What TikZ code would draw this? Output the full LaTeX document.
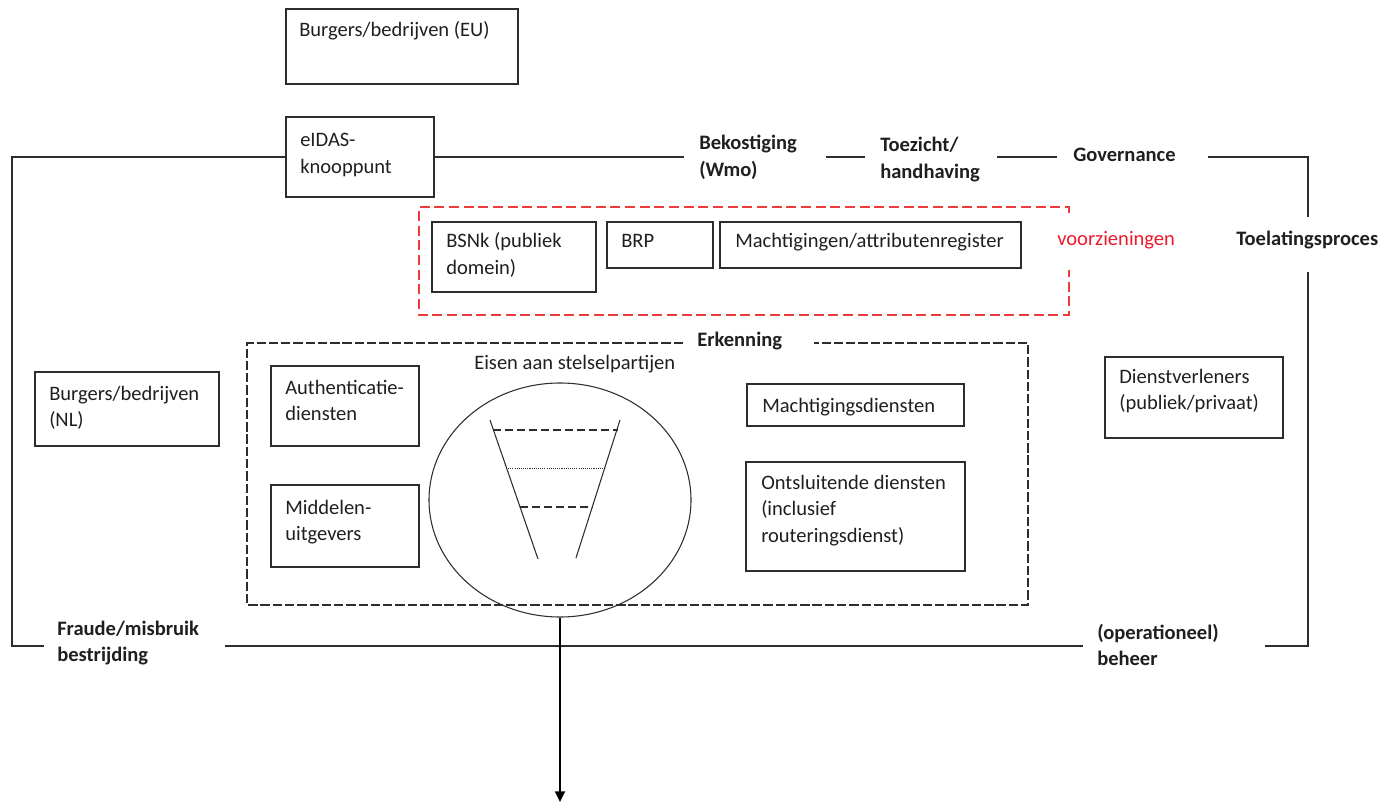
\documentclass[tikz,border=0pt]{standalone}
\usepackage{fontspec}
\setmainfont{Carlito}
\usetikzlibrary{fit,shapes.geometric,arrows.meta}
\definecolor{ln}{RGB}{45,45,45}
\definecolor{rd}{RGB}{238,60,60}
\definecolor{rtxt}{RGB}{235,25,45}
\newcommand\ml[1]{\begin{tabular}[t]{@{}l@{}}#1\end{tabular}}
\begin{document}
\begin{tikzpicture}[x=0.75pt,y=-0.75pt,
  every node/.style={inner sep=0pt,font=\fontsize{15.4}{19.875}\selectfont},
  bx/.style={draw=ln,line width=0.9pt,inner sep=0pt,rectangle},
  txt/.style={anchor=base west,text=black!88},
  lbl/.style={anchor=base west,text=black!88,font=\fontsize{15.4}{19.875}\selectfont\bfseries},
  frame/.style={draw=ln,line width=0.9pt},
  dbox/.style={draw=ln,line width=0.8pt,dash pattern=on 7pt off 2.2pt},
  rbox/.style={draw=rd,line width=0.9pt,dash pattern=on 7.5pt off 3.5pt}]
\useasboundingbox (0,0) rectangle (1385,802);

% boxes
\node[bx,fit={(286,9) (518,84)}] (eu) {};
\node[bx,fit={(286,117) (434,197)}] (eidas) {};
\node[bx,fit={(432,222) (596,292)}] (bsnk) {};
\node[bx,fit={(607,222) (713,268)}] (brp) {};
\node[bx,fit={(720,222) (1021,268)}] (macht) {};
\node[bx,fit={(35,372) (219,446)}] (nl) {};
\node[bx,fit={(271,366) (419,446)}] (auth) {};
\node[bx,fit={(271,485) (419,567)}] (mid) {};
\node[bx,fit={(747,384) (964,426)}] (mdienst) {};
\node[bx,fit={(746,462) (965,571)}] (ontsl) {};
\node[bx,fit={(1105,357) (1283,438)}] (dienstv) {};

% box texts
\node[txt] (teu) at (299,37) {Burgers/bedrijven (EU)};
\node[txt] (teidas) at (300,147) {\ml{eIDAS-\\knooppunt}};
\node[txt] (tbsnk) at (446,248) {\ml{BSNk (publiek\\domein)}};
\node[txt] (tbrp) at (621,248) {BRP};
\node[txt] (tmacht) at (735,248) {Machtigingen/attributenregister};
\node[txt] (tnl) at (49,400) {\ml{Burgers/bedrijven\\(NL)}};
\node[txt] (tauth) at (285,394) {\ml{Authenticatie-\\diensten}};
\node[txt] (tmid) at (285,514) {\ml{Middelen-\\uitgevers}};
\node[txt] (tmd) at (762,412) {Machtigingsdiensten};
\node[txt] (tont) at (761,489) {\ml{Ontsluitende diensten\\(inclusief\\routeringsdienst)}};
\node[txt] (tdv) at (1119,383) {\ml{Dienstverleners\\(publiek/privaat)}};
\node[txt] (teisen) at (474,369) {Eisen aan stelselpartijen};
\node[txt,text=rtxt] (tvoor) at (1057,246) {voorzieningen};

% bold labels on the frame
\node[lbl] (lbek) at (699,150) {\ml{Bekostiging\\(Wmo)}};
\node[lbl] (ltoe) at (880,152) {\ml{Toezicht/\\handhaving}};
\node[lbl] (lgov) at (1073,162) {Governance};
\node[lbl] (ltoel) at (1236,246) {Toelatingsproces};
\node[lbl] (lerk) at (697,346) {Erkenning};
\node[lbl] (lfr) at (57,635) {\ml{Fraude/misbruik\\bestrijding}};
\node[lbl] (lop) at (1097,639) {\ml{(operationeel)\\beheer}};

% outer frame
\draw[frame] (eidas.west) -- (12,157) -- (12,646) -- (44,646);
\draw[frame] (eidas.east) -- (684,157);
\draw[frame] (826,157) -- (865,157);
\draw[frame] (997,157) -- (1057,157);
\draw[frame] (1208,157) -- (1308,157) -- (1308,217);
\draw[frame] (1308,272) -- (1308,646) -- (1265,646);
\draw[frame] (1083,646) -- (225,646);

% red dashed 'voorzieningen' box
\draw[rbox] (1069,213) -- (1069,207) -- (419,207) -- (419,315) -- (1069,315) -- (1069,270);

% black dashed 'Erkenning' box
\draw[dbox] (683,343) -- (247,343) -- (247,605) -- (1028,605) -- (1028,343) -- (814,343);

% ellipse with funnel
\node[draw=ln,line width=0.8pt,ellipse,minimum width=196.5pt,minimum height=175.5pt] (req) at (560,500) {};
\draw[ln,line width=0.8pt] (490,420) -- (538,559);
\draw[ln,line width=0.8pt] (620,420) -- (576,558);
\draw[ln,line width=0.8pt,dash pattern=on 6pt off 3pt] (493,430) -- (618,430);
\draw[ln,line width=0.6pt,dash pattern=on 0.8pt off 0.8pt] (506,468) -- (605,468);
\draw[ln,line width=0.8pt,dash pattern=on 6pt off 3pt] (520,507) -- (593,507);

% outgoing arrow
\coordinate (out) at (req.south |- 0,802);
\draw[black,line width=1.3pt,-{Triangle[length=8pt,width=7.5pt]}] (req.south) -- (out);
\end{tikzpicture}
\end{document}
